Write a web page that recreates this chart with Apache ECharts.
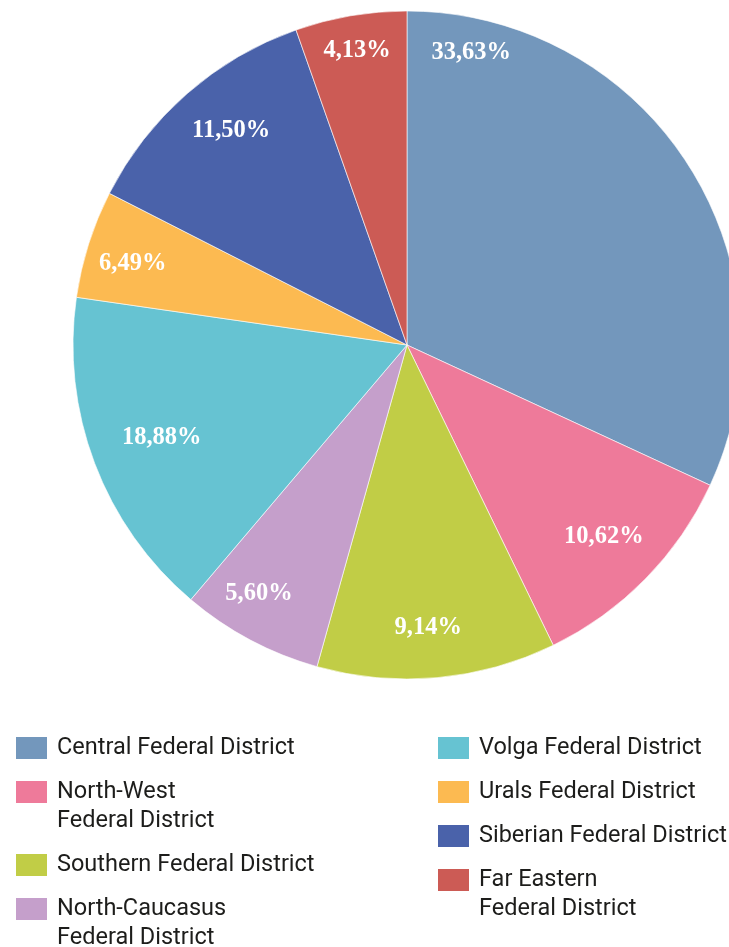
<!DOCTYPE html>
<html>
<head>
<meta charset="utf-8">
<script src="https://cdn.jsdelivr.net/npm/echarts@6/dist/echarts.min.js"></script>
<style>
html,body{margin:0;padding:0;background:#fff;}
#chart{width:729px;height:947px;}
</style>
</head>
<body>
<div id="chart"></div>
<script>
// Districts (legend names, line breaks as in the reference)
const districts = [
  'Central Federal District',
  'North-West\nFederal District',
  'Southern Federal District',
  'North-Caucasus\nFederal District',
  'Volga Federal District',
  'Urals Federal District',
  'Siberian Federal District',
  'Far Eastern\nFederal District'
];
// Slice sizes as drawn in the picture (percent of the circle)
const sliceShares = [31.90, 10.89, 11.56, 6.86, 16.08, 5.22, 12.11, 5.39];
// Percent labels printed on the slices
const sliceLabels = ['33,63%', '10,62%', '9,14%', '5,60%', '18,88%', '6,49%', '11,50%', '4,13%'];
const colors = ['#7397bc', '#ee7a9a', '#c1cd46', '#c59fcb', '#66c3d2', '#fcba51', '#4a62aa', '#cc5b55'];

// label placement (style): [radius px, angle deg clockwise from 12 o'clock]
const labelPolar = [[299, 12.4], [275, 134.3], [283, 175.7], [289, 210.8], [262, 249.4], [286, 286.5], [277, 320.6], [299, 350.4]];

const CX = 407, CY = 345, R = 334;
const chart = echarts.init(document.getElementById('chart'), null, {renderer: 'canvas'});

const pieData = districts.map((n, i) => ({name: n, value: sliceShares[i], itemStyle: {color: colors[i]}}));

// legends: two columns, one legend component per item
const LINE_H = 29, ICON_W = 31, ICON_H = 22;
const columns = [[0, 1, 2, 3], [4, 5, 6, 7]];
const colLeft = [16, 438];
const legends = [];
columns.forEach((col, c) => {
  let iconTop = 737;
  col.forEach(idx => {
    const lines = districts[idx].split('\n').length;
    const shown = lines > 1 ? 2 * lines - 1 : 1; // blank lines prepended so the first line sits beside the swatch
    const boxH = Math.max(shown * LINE_H, ICON_H);
    legends.push({
      data: [districts[idx]],
      left: colLeft[c],
      top: iconTop - (boxH / 2 - ICON_H / 2),
      orient: 'vertical',
      padding: 0,
      itemWidth: ICON_W,
      itemHeight: ICON_H,
      icon: 'rect',
      selectedMode: false,
      itemStyle: {borderWidth: 0},
      formatter: name => '\n'.repeat(lines - 1) + name,
      textStyle: {
        fontFamily: 'Roboto',
        fontSize: 23.5,
        lineHeight: LINE_H,
        color: '#1d1d1b',
        padding: [0, 0, 0, 5]
      }
    });
    iconTop += 44 + (lines - 1) * LINE_H;
  });
});

chart.setOption({
  animation: false,
  legend: legends,
  series: [
    {
      type: 'pie',
      center: [CX, CY],
      radius: [0, R],
      startAngle: 90,
      clockwise: true,
      itemStyle: {borderColor: '#ffffff', borderWidth: 0.6},
      emphasis: {disabled: true},
      label: {
        show: true,
        position: 'inside',
        fontFamily: 'Liberation Serif',
        fontWeight: 'bold',
        fontSize: 24.5,
        color: '#ffffff',
        formatter: p => sliceLabels[p.dataIndex]
      },
      labelLine: {show: false},
      labelLayout: function (p) {
        const lp = labelPolar[p.dataIndex];
        const a = lp[1] * Math.PI / 180;
        return {x: CX + lp[0] * Math.sin(a), y: CY - lp[0] * Math.cos(a)};
      },
      data: pieData
    }
  ]
});
</script>
</body>
</html>
